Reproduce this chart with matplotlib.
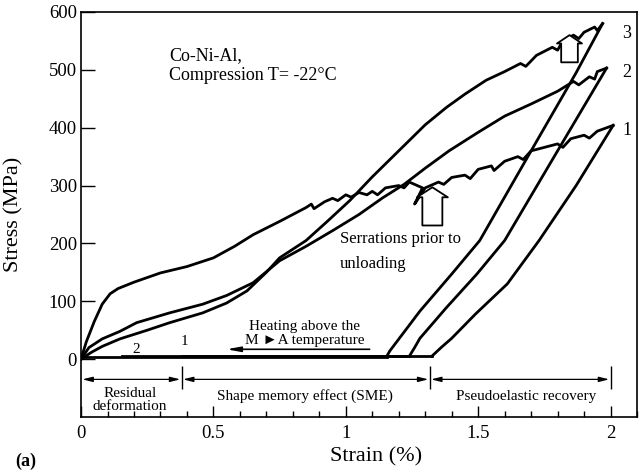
import matplotlib
matplotlib.use("Agg")
import matplotlib.pyplot as plt
from matplotlib.ticker import MultipleLocator

plt.rcParams['font.family'] = ['Liberation Serif', 'DejaVu Serif']

# loading curves (strain %, stress MPa)
load1_strain = [0, 0.02, 0.05, 0.08, 0.11, 0.14, 0.2, 0.3, 0.4, 0.5, 0.58, 0.65, 0.75, 0.85, 0.87, 0.88,
                0.92, 0.95, 0.97, 1.0, 1.02, 1.05, 1.08, 1.1, 1.12, 1.15, 1.2, 1.22, 1.24, 1.29,
                1.26, 1.30, 1.35, 1.37, 1.40, 1.45, 1.47, 1.5, 1.55, 1.56, 1.6, 1.65, 1.67, 1.7,
                1.75, 1.8, 1.82, 1.85, 1.9, 1.92, 1.95, 2.01]
load1_stress = [0, 30, 65, 95, 113, 122, 133, 149, 160, 175, 195, 215, 238, 262, 268, 260,
                272, 278, 274, 284, 280, 288, 284, 290, 284, 296, 300, 296, 306, 296,
                268, 296, 306, 302, 314, 318, 312, 328, 334, 326, 342, 350, 345, 360,
                366, 372, 366, 381, 387, 382, 394, 404]

load2_strain = [0, 0.03, 0.08, 0.147, 0.21, 0.335, 0.46, 0.55, 0.65, 0.75, 0.85, 0.95, 1.05, 1.14,
                1.22, 1.3, 1.39, 1.5, 1.6, 1.7, 1.8, 1.86, 1.88, 1.92, 1.94, 1.95, 1.985]
load2_stress = [0, 20, 35, 48, 63, 80, 95, 110, 132, 170, 195, 222, 250, 279,
                302, 330, 360, 392, 420, 441, 463, 480, 474, 488, 484, 497, 503]

load3_strain = [0, 0.04, 0.08, 0.147, 0.25, 0.335, 0.46, 0.55, 0.627, 0.7, 0.75, 0.85, 0.93, 1.015,
                1.1, 1.2, 1.3, 1.38, 1.45, 1.53, 1.6, 1.66, 1.68, 1.72, 1.78, 1.8, 1.82, 1.86,
                1.88, 1.9, 1.94, 1.95, 1.97]
load3_stress = [0, 12, 22, 35, 50, 63, 80, 97, 118, 150, 175, 205, 238, 274,
                315, 360, 405, 435, 458, 482, 497, 511, 506, 525, 539, 534, 550, 560,
                554, 565, 574, 568, 580]

# unloading curves
unload1_strain = [2.01, 1.87, 1.73, 1.61, 1.49, 1.40, 1.36, 1.325]
unload1_stress = [404, 300, 205, 130, 78, 36, 20, 5]
unload2_strain = [1.985, 1.80, 1.60, 1.495, 1.38, 1.28, 1.26, 1.24]
unload2_stress = [503, 360, 205, 147, 89, 36, 20, 5]
unload3_strain = [1.97, 1.87, 1.70, 1.506, 1.40, 1.28, 1.166, 1.155]
unload3_stress = [580, 495, 360, 205, 147, 83, 14, 5]

# strain recovery on heating (stress ~ 0)
heat_start = [1.325, 1.24, 1.155]
heat_end = [0.38, 0.155, 0.0]
heat_stress = [6, 5, 3]

region_edges = [0.38, 1.317, 2.0]
region_labels = ["Residual\ndeformation", "Shape memory effect (SME)", "Pseudoelastic recovery"]

end_labels = ["1", "2", "3"]
end_label_stress = [395, 496, 562]

x_ticks = [0, 0.5, 1, 1.5, 2]
x_tick_labels = ["0", "0.5", "1", "1.5", "2"]
y_ticks = [0, 100, 200, 300, 400, 500, 600]

fig, ax = plt.subplots(figsize=(6.39, 4.70), dpi=100)
fig.subplots_adjust(left=0.1268, right=0.9969, bottom=0.1128, top=0.9745)

lw = 2.0
ax.plot(load1_strain, load1_stress, color="k", lw=lw)
ax.plot(load2_strain, load2_stress, color="k", lw=lw)
ax.plot(load3_strain, load3_stress, color="k", lw=lw)
ax.plot(unload1_strain, unload1_stress, color="k", lw=lw)
ax.plot(unload2_strain, unload2_stress, color="k", lw=lw)
ax.plot(unload3_strain, unload3_stress, color="k", lw=lw)
for s, e, y in zip(heat_start, heat_end, heat_stress):
    ax.plot([s, e], [y, y], color="k", lw=lw)

# curve numbers
for lab, y in zip(end_labels, end_label_stress):
    ax.text(2.045, y, lab, fontsize=13, ha="left", va="center")
ax.text(0.39, 31, "1", fontsize=11, ha="center", va="center")
ax.text(0.21, 17, "2", fontsize=11, ha="center", va="center")

ax.text(0.332, 525, "Co-Ni-Al,", fontsize=13, va="center")
ax.text(0.332, 491, "Compression T= -22\u00b0C", fontsize=13, va="center")

ax.text(0.977, 208, "Serrations prior to", fontsize=12, va="center")
ax.text(0.977, 165, "unloading", fontsize=12, va="center")

ax.text(0.845, 57, "Heating above the", fontsize=11, ha="center", va="center")
ax.text(0.845, 33, "M \u25baA temperature", fontsize=11, ha="center", va="center")
ax.annotate("", xy=(0.55, 17), xytext=(1.09, 17),
            arrowprops=dict(arrowstyle="-|>,head_length=0.8,head_width=0.15", color="k", lw=1.2,
                            shrinkA=0, shrinkB=0, mutation_scale=10))

# hollow block arrows
ax.annotate("", xy=(1.327, 297), xytext=(1.327, 231),
            arrowprops=dict(arrowstyle="simple,head_length=0.72,head_width=2.23,tail_width=1.44",
                            fc="white", ec="k", lw=1.3, shrinkA=0, shrinkB=0, mutation_scale=10))
ax.annotate("", xy=(1.845, 560), xytext=(1.845, 513),
            arrowprops=dict(arrowstyle="simple,head_length=0.6,head_width=1.8,tail_width=1.2",
                            fc="white", ec="k", lw=1.3, shrinkA=0, shrinkB=0, mutation_scale=10))

# strain regions below zero
ax.vlines(region_edges, -52, -12, color="k", lw=1.0)
starts = [0.0] + region_edges[:-1]
for x0, x1 in zip(starts, region_edges):
    ax.annotate("", xy=(x0 + 0.005, -35), xytext=(x1 - 0.005, -35),
                arrowprops=dict(arrowstyle="<|-|>,head_length=0.6,head_width=0.15", color="k", lw=0.9,
                                shrinkA=0, shrinkB=0, mutation_scale=10))
ax.text(0.185, -70, region_labels[0], fontsize=11, ha="center", va="center", linespacing=1.0)
ax.text(0.847, -64, region_labels[1], fontsize=11, ha="center", va="center")
ax.text(1.68, -64, region_labels[2], fontsize=11, ha="center", va="center")

ax.set_xlim(0, 2.1)
ax.set_ylim(-100, 600)
ax.set_yticks(y_ticks)
ax.set_xticks(x_ticks, x_tick_labels)
ax.xaxis.set_minor_locator(MultipleLocator(0.1))
ax.tick_params(axis="x", which="major", direction="in", length=8, width=1, labelsize=13.5, pad=6)
ax.tick_params(axis="x", which="minor", direction="in", length=4, width=1)
ax.tick_params(axis="y", which="major", direction="in", length=10, width=1, labelsize=13.5, pad=3)
for sp in ax.spines.values():
    sp.set_linewidth(1.2)

ax.set_xlabel("Strain (%)", fontsize=16)
ax.xaxis.set_label_coords(0.53, -0.075)
ax.set_ylabel("Stress (MPa)", fontsize=16)
ax.yaxis.set_label_coords(-0.104, 0.5)

fig.text(0.024, 0.018, "(a)", fontsize=13, fontweight="bold", va="center")

plt.savefig("out.png")
